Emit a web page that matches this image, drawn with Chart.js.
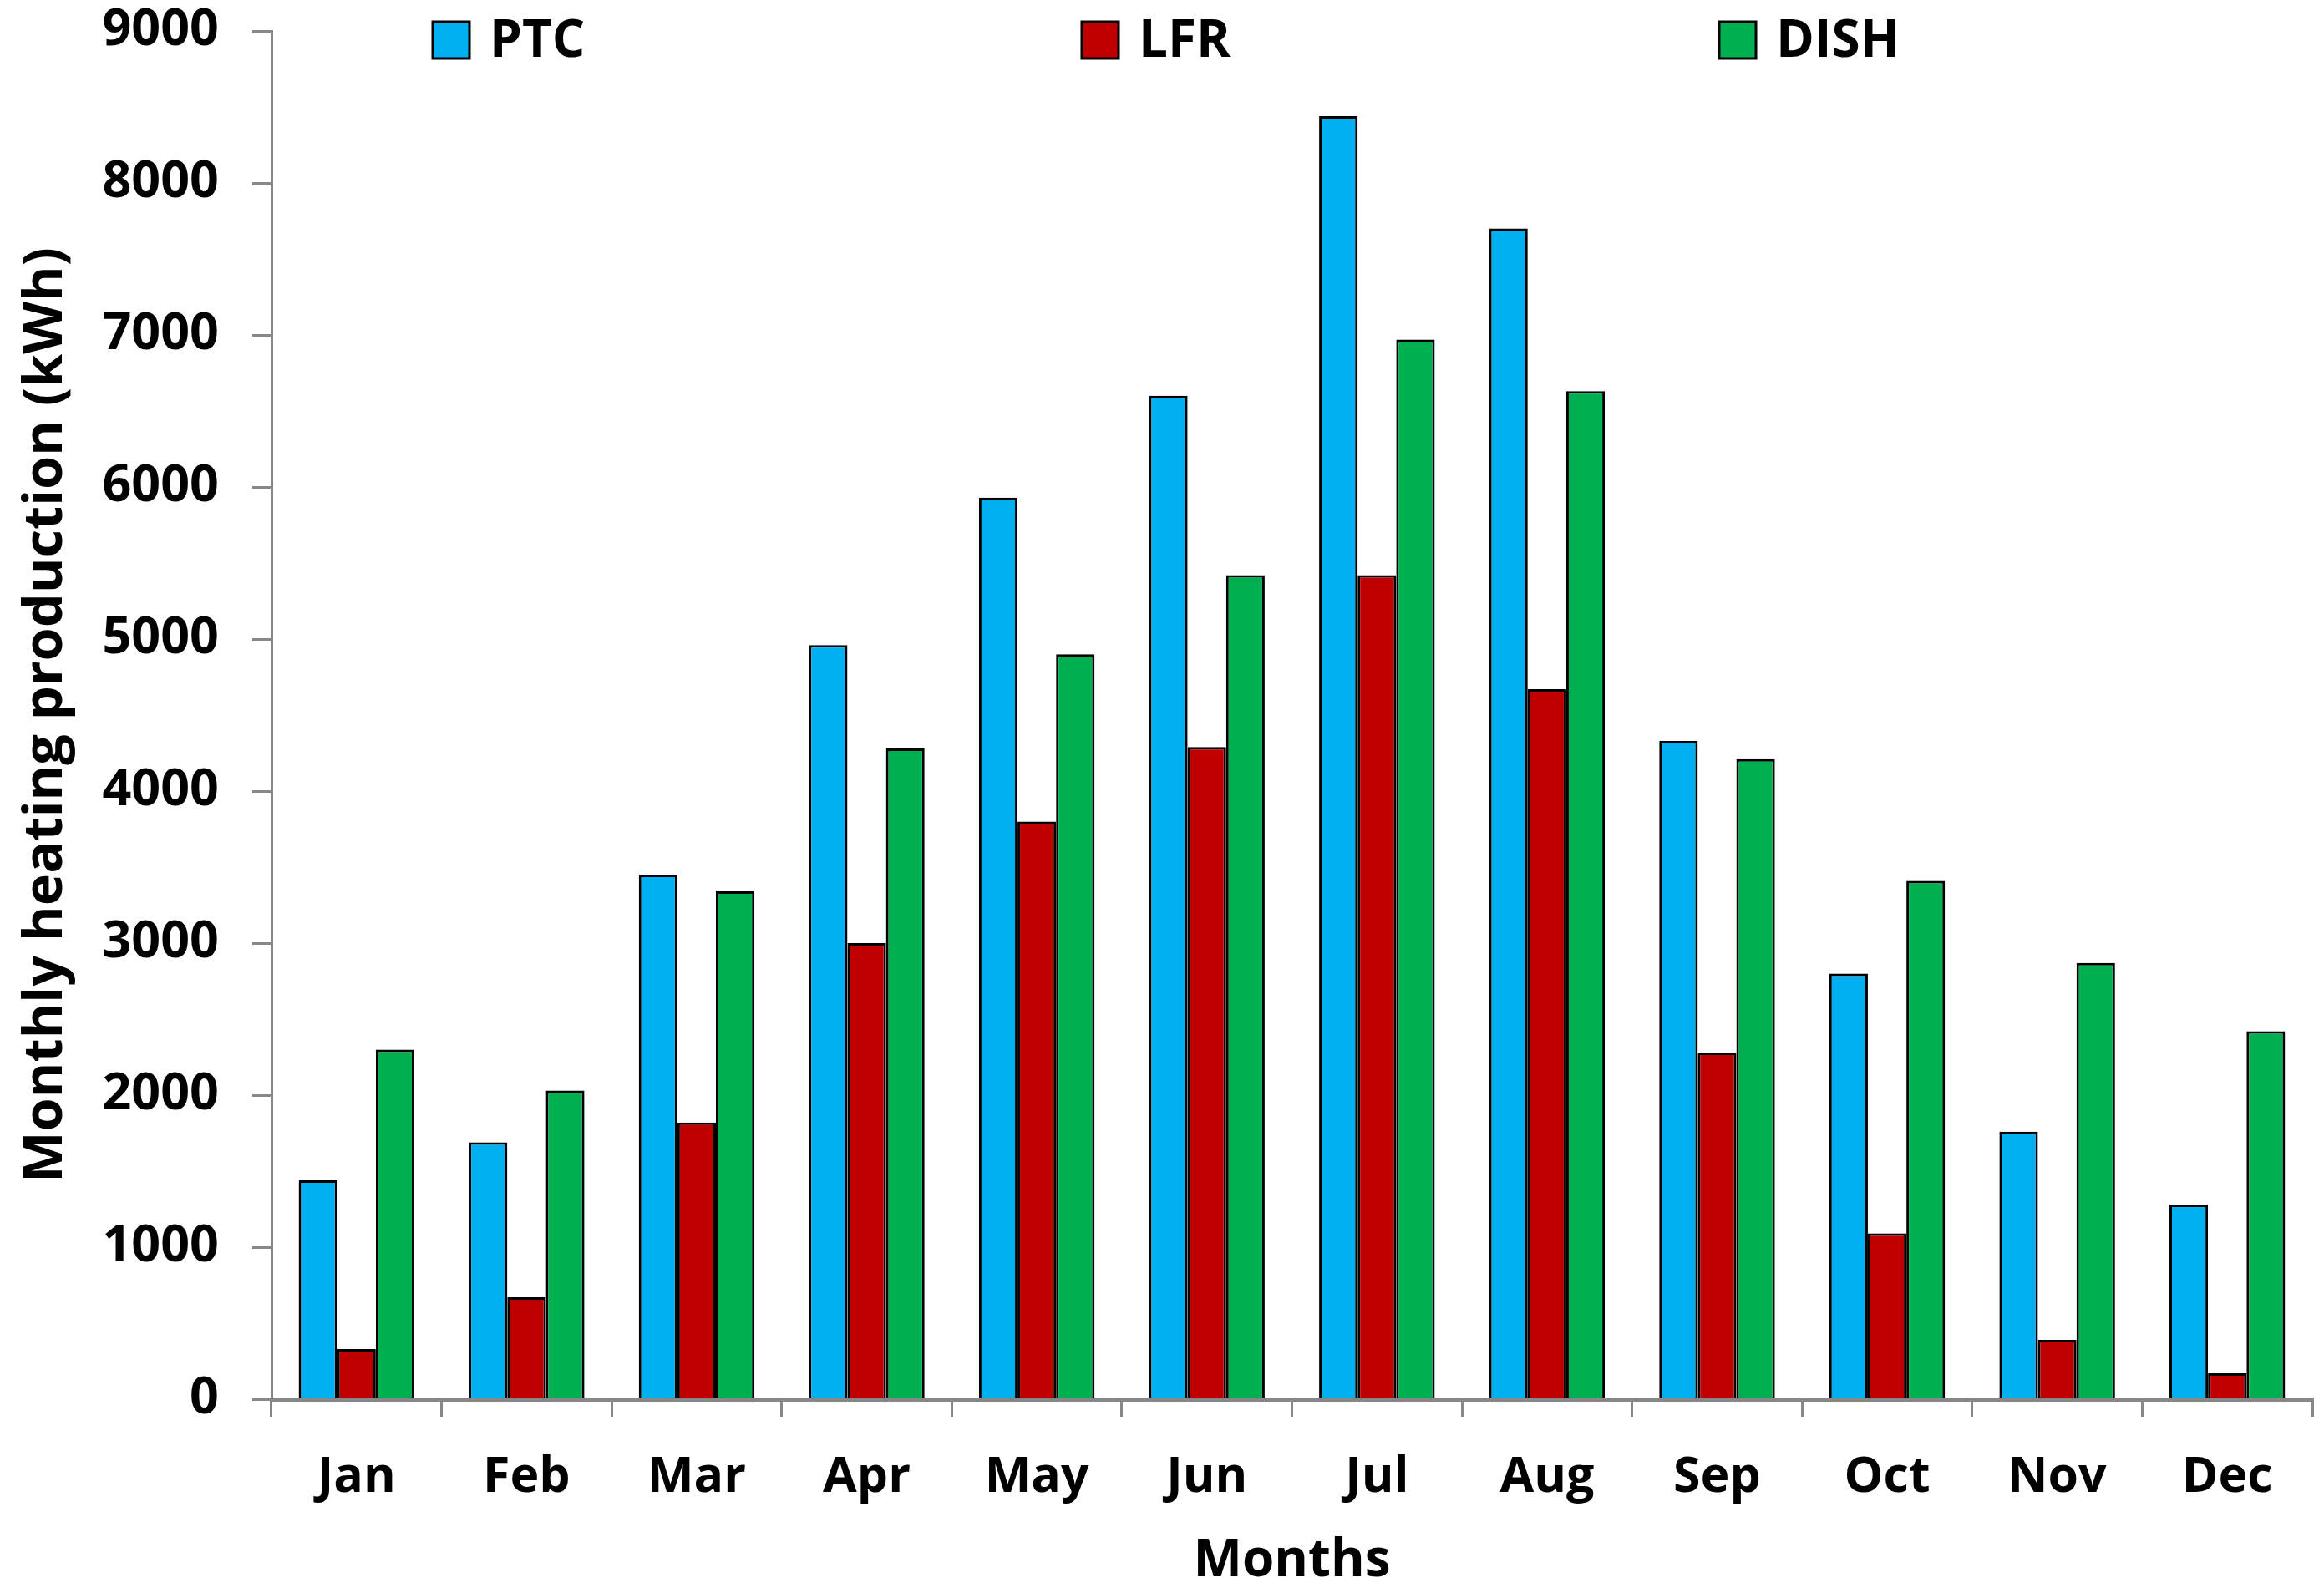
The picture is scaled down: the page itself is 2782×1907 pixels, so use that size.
<!DOCTYPE html>
<html>
<head>
<meta charset="utf-8">
<script src="https://cdn.jsdelivr.net/npm/chart.js@4/dist/chart.umd.min.js"></script>
<style>
html,body{margin:0;padding:0;background:#fff;}
#wrap{width:2782px;height:1907px;}
</style>
</head>
<body>
<div id="wrap"><canvas id="c" width="2782" height="1907"></canvas></div>
<script>
const months = ["Jan","Feb","Mar","Apr","May","Jun","Jul","Aug","Sep","Oct","Nov","Dec"];
const ptc  = [1440,1690,3450,4960,5930,6600,8440,7700,4330,2800,1760,1280];
const lfr  = [330,670,1820,3000,3800,4290,5420,4670,2280,1090,390,170];
const dish = [2300,2030,3340,4280,4900,5420,6970,6630,4210,3410,2870,2420];
const yTicks = [0,1000,2000,3000,4000,5000,6000,7000,8000,9000];

const FONT = "'Open Sans', 'DejaVu Sans', sans-serif";
const AXIS = '#878787';

const legendPlugin = {
  id: 'insideLegend',
  afterDraw(chart) {
    const ctx = chart.ctx;
    const xs = [518, 1295, 2058];
    ctx.save();
    ctx.font = 'bold 62px ' + FONT;
    ctx.textBaseline = 'middle';
    ctx.textAlign = 'left';
    chart.data.datasets.forEach((ds, i) => {
      const x = xs[i], y = 26, w = 44, h = 44;
      ctx.fillStyle = ds.backgroundColor;
      ctx.fillRect(x, y, w, h);
      ctx.lineWidth = 3;
      ctx.strokeStyle = '#000';
      ctx.strokeRect(x, y, w, h);
      ctx.fillStyle = '#000';
      ctx.fillText(ds.label, x + w + 24, y + h / 2 + 2);
    });
    ctx.restore();
  }
};

new Chart(document.getElementById('c'), {
  type: 'bar',
  data: {
    labels: months,
    datasets: [
      {label: 'PTC',  data: ptc,  backgroundColor: '#00B0F0', borderColor: '#000', borderWidth: 3},
      {label: 'LFR',  data: lfr,  backgroundColor: '#C00000', borderColor: '#000', borderWidth: 3},
      {label: 'DISH', data: dish, backgroundColor: '#00B050', borderColor: '#000', borderWidth: 3}
    ]
  },
  options: {
    responsive: false,
    animation: false,
    devicePixelRatio: 1,
    layout: {padding: {top: 37, right: 14, left: 0, bottom: 0}},
    datasets: {bar: {barPercentage: 1.0, categoryPercentage: 0.68}},
    plugins: {legend: {display: false}, tooltip: {enabled: false}},
    scales: {
      x: {
        offset: true,
        grid: {display: true, drawOnChartArea: false, offset: true, tickLength: 21, color: AXIS, lineWidth: 3},
        border: {display: true, color: AXIS, width: 5},
        ticks: {color: '#000', font: {family: FONT, weight: 'bold', size: 59}, padding: 38},
        title: {display: true, text: 'Months', color: '#000', font: {family: FONT, weight: 'bold', size: 62}, padding: {top: 18, bottom: 0}},
        afterFit(s) { s.height = 232; s.paddingLeft = 0; s.paddingRight = 0; }
      },
      y: {
        min: 0, max: 9000,
        afterBuildTicks(s) { s.ticks = yTicks.map(v => ({value: v})); },
        grid: {display: true, drawOnChartArea: false, tickLength: 23, color: AXIS, lineWidth: 3},
        border: {display: true, color: AXIS, width: 3},
        ticks: {color: '#000', font: {family: FONT, weight: 'bold', size: 61}, padding: 40, callback: v => String(v)},
        title: {display: true, text: 'Monthly heating production (kWh)', color: '#000', font: {family: FONT, weight: 'bold', size: 65}, padding: {top: 16, bottom: 6}},
        afterFit(s) { s.width = 325; s.paddingTop = 0; s.paddingBottom = 0; }
      }
    }
  },
  plugins: [legendPlugin]
});
</script>
</body>
</html>
